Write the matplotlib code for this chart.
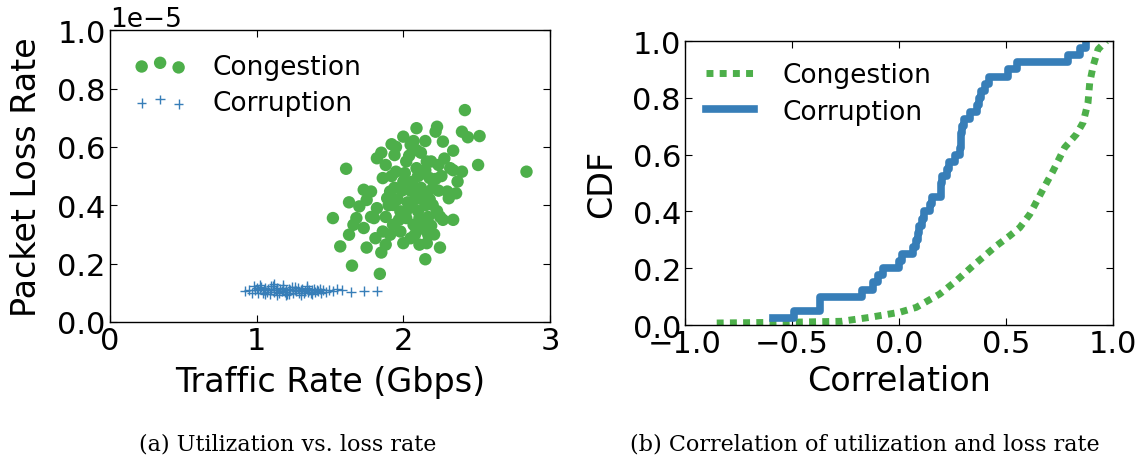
import numpy as np
import matplotlib.pyplot as plt

GREEN = '#4daf4a'
BLUE = '#377eb8'

# (a) scatter: traffic rate (Gbps) vs loss rate (x1e-5)
cong_x = [2.42, 2.52, 2.44, 2.40, 2.84, 2.51, 2.40, 2.34, 2.25, 2.15, 1.84, 1.65,
          1.57, 1.52, 1.61, 1.63, 1.70, 1.82, 1.75, 1.85, 2.09, 2.23, 2.22, 1.92,
          2.00, 2.15, 2.05, 2.27, 2.34, 1.94, 2.09, 1.88, 2.02, 2.16, 2.24, 2.32,
          2.37, 2.36, 2.31, 2.25, 1.86, 1.73, 1.78, 1.75, 1.66, 1.63, 1.68, 1.73,
          1.82, 1.81, 1.88, 1.91, 1.93, 1.98, 2.00, 2.07, 2.11, 2.18, 2.11, 2.05,
          1.98, 2.05, 2.11, 2.17, 2.16, 2.20, 2.20, 1.91, 1.93, 2.11, 2.34, 2.27,
          2.07, 2.02, 1.95, 2.09, 1.89, 1.80, 2.30,
          2.05, 2.08, 2.12, 2.15, 2.02, 1.96, 2.10, 2.14, 2.18, 2.06, 1.99, 2.03,
          2.17, 2.13, 2.08, 1.97, 1.94, 2.22, 2.19, 2.12, 2.04, 1.90, 1.88, 2.24,
          2.26, 2.21, 2.16, 2.00, 1.86, 1.78, 1.85, 2.28, 1.95, 2.07, 2.15, 2.10,
          2.01, 1.92, 2.19, 2.23]
cong_y = [0.726, 0.637, 0.633, 0.652, 0.515, 0.538, 0.515, 0.350, 0.255, 0.215, 0.165, 0.193,
          0.259, 0.356, 0.525, 0.410, 0.396, 0.561, 0.255, 0.238, 0.664, 0.669, 0.652, 0.609,
          0.635, 0.620, 0.607, 0.618, 0.587, 0.572, 0.589, 0.538, 0.550, 0.550, 0.538, 0.527,
          0.481, 0.441, 0.424, 0.361, 0.493, 0.453, 0.447, 0.418, 0.333, 0.299, 0.356, 0.322,
          0.390, 0.287, 0.265, 0.299, 0.333, 0.379, 0.481, 0.458, 0.504, 0.493, 0.424, 0.401,
          0.310, 0.287, 0.265, 0.299, 0.344, 0.401, 0.458, 0.447, 0.401, 0.356, 0.520, 0.350,
          0.333, 0.356, 0.515, 0.527, 0.424, 0.356, 0.447,
          0.45, 0.42, 0.46, 0.40, 0.38, 0.42, 0.38, 0.44, 0.42, 0.48, 0.45, 0.41,
          0.36, 0.32, 0.30, 0.35, 0.46, 0.49, 0.55, 0.58, 0.57, 0.40, 0.36, 0.45,
          0.50, 0.30, 0.27, 0.27, 0.31, 0.36, 0.58, 0.56, 0.60, 0.62, 0.52, 0.50,
          0.51, 0.50, 0.33, 0.38]

corr_x = [0.92, 0.95, 0.97, 0.98, 0.99, 1.00, 1.01, 1.02, 1.03, 1.04, 1.05, 1.06,
          1.07, 1.08, 1.09, 1.10, 1.11, 1.12, 1.13, 1.14, 1.15, 1.16, 1.17, 1.18,
          1.19, 1.20, 1.21, 1.22, 1.23, 1.24, 1.25, 1.26, 1.27, 1.28, 1.29, 1.30,
          1.31, 1.32, 1.33, 1.34, 1.35, 1.36, 1.37, 1.38, 1.39, 1.40, 1.41, 1.42,
          1.43, 1.44, 1.45, 1.47, 1.49, 1.52, 1.55, 1.58, 1.64, 1.73, 1.82,
          1.02, 1.06, 1.10, 1.14, 1.18, 1.22, 1.26, 1.30, 1.34, 1.38, 1.12, 1.20]
corr_y = [0.105, 0.110, 0.100, 0.125, 0.108, 0.115, 0.100, 0.112, 0.120, 0.098, 0.108, 0.118,
          0.104, 0.112, 0.096, 0.110, 0.122, 0.102, 0.108, 0.115, 0.099, 0.112, 0.106, 0.118,
          0.103, 0.110, 0.097, 0.114, 0.108, 0.120, 0.101, 0.110, 0.105, 0.116, 0.100, 0.109,
          0.113, 0.098, 0.107, 0.117, 0.103, 0.111, 0.099, 0.108, 0.114, 0.102, 0.110, 0.106,
          0.112, 0.100, 0.108, 0.104, 0.110, 0.105, 0.112, 0.108, 0.104, 0.106, 0.105,
          0.128, 0.095, 0.125, 0.094, 0.127, 0.096, 0.121, 0.093, 0.124, 0.097, 0.130, 0.092]

# (b) CDF of correlation
corr_cdf_x = [-0.59, -0.49, -0.37, -0.37, -0.175, -0.12, -0.10, -0.075, 0.0, 0.012,
              0.065, 0.08, 0.09, 0.095, 0.105, 0.115, 0.145, 0.152, 0.195, 0.198,
              0.20, 0.225, 0.235, 0.26, 0.285, 0.288, 0.29, 0.295, 0.305, 0.33,
              0.365, 0.372, 0.385, 0.40, 0.42, 0.51, 0.55, 0.79, 0.845, 0.875]
corr_cdf_y = [(i + 1) / 40 for i in range(40)]

cong_cdf_x = [-0.852, -0.49, -0.27, -0.136, 0.004, 0.08, 0.19, 0.268, 0.346, 0.455,
              0.517, 0.564, 0.611, 0.673, 0.72, 0.774, 0.829, 0.86, 0.883, 0.891,
              0.907, 0.93, 0.969]
cong_cdf_y = [0.007, 0.01, 0.013, 0.027, 0.045, 0.062, 0.109, 0.156, 0.209, 0.279,
              0.314, 0.343, 0.39, 0.478, 0.543, 0.625, 0.672, 0.713, 0.783, 0.853,
              0.912, 0.971, 1.0]

plt.rcParams['font.family'] = 'DejaVu Sans'
fig = plt.figure(figsize=(11.41, 4.64), dpi=100)

# left panel
ax1 = fig.add_axes([0.0964, 0.3039, 0.3856, 0.629])
ax1.scatter(cong_x, np.array(cong_y) * 1e-5, s=80, color=GREEN, edgecolors='none',
            marker='o', label='Congestion')
ax1.scatter(corr_x, np.array(corr_y) * 1e-5, s=45, color=BLUE, marker='+',
            linewidths=1.0, label='Corruption')
ax1.set_xlim(0, 3)
ax1.set_ylim(0, 1e-5)
ax1.set_xticks([0, 1, 2, 3])
ax1.set_yticks(np.arange(0, 1.01e-5, 0.2e-5))
ax1.set_xlabel('Traffic Rate (Gbps)', fontsize=24, labelpad=7)
ax1.set_ylabel('Packet Loss Rate', fontsize=24, labelpad=10)
ax1.ticklabel_format(axis='y', style='sci', scilimits=(0, 0))
ax1.yaxis.get_offset_text().set_fontsize(19)
ax1.legend(loc='upper left', frameon=False, fontsize=19, scatterpoints=3,
           scatteryoffsets=[0.4, 0.6, 0.35], handletextpad=1.0,
           borderaxespad=0.5, labelspacing=0.4)

# right panel
ax2 = fig.add_axes([0.6004, 0.2974, 0.3751, 0.612])
ax2.plot(cong_cdf_x, cong_cdf_y, color=GREEN, lw=5, linestyle=(0, (1, 0.9)),
         dash_capstyle='butt', label='Congestion')
ax2.step(corr_cdf_x, corr_cdf_y, where='post', color=BLUE, lw=5.5, label='Corruption')
ax2.set_xlim(-1, 1)
ax2.set_ylim(0, 1)
ax2.set_xticks([-1.0, -0.5, 0.0, 0.5, 1.0])
ax2.set_yticks(np.arange(0, 1.01, 0.2))
ax2.yaxis.set_major_formatter(plt.FormatStrFormatter('%.1f'))
ax2.set_xlabel('Correlation', fontsize=24, labelpad=4)
ax2.set_ylabel('CDF', fontsize=24, labelpad=10)
ax2.legend(loc='upper left', frameon=False, fontsize=19, handlelength=1.8,
           handletextpad=1.1, borderaxespad=0.4, labelspacing=0.4)

for ax in (ax1, ax2):
    ax.tick_params(direction='in', top=True, right=True, labelsize=22,
                   length=5, pad=3)
    for sp in ax.spines.values():
        sp.set_linewidth(1.0)

fig.text(0.2524, 0.043, '(a) Utilization vs. loss rate', ha='center', va='center',
         fontsize=16, family='DejaVu Serif')
fig.text(0.758, 0.043, '(b) Correlation of utilization and loss rate', ha='center',
         va='center', fontsize=16, family='DejaVu Serif')

fig.savefig('out.png', dpi=100)
